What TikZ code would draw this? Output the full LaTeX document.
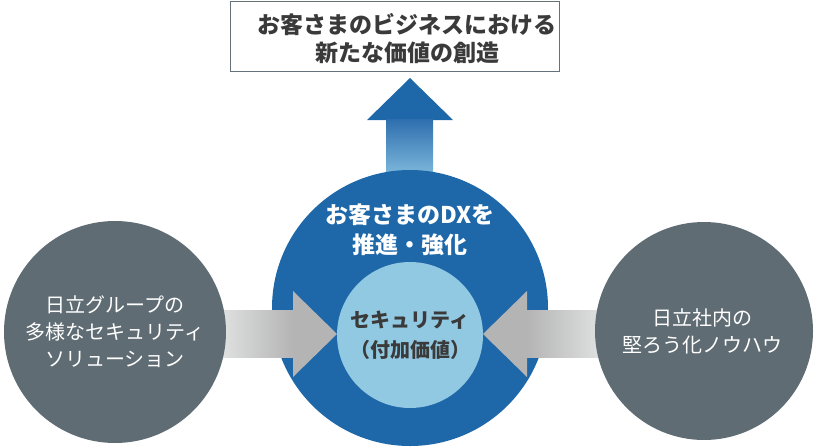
\documentclass[tikz,border=0pt]{standalone}
\usepackage{fontspec}
\newfontfamily\jp{Noto Sans CJK JP}
\definecolor{bigblue}{HTML}{1E67A9}
\definecolor{lightblue}{HTML}{92C9E2}
\definecolor{slate}{HTML}{5F6C73}
\definecolor{boxline}{HTML}{66727A}
\definecolor{darktext}{HTML}{3A3A3A}
\definecolor{arrlight}{HTML}{DFE0E0}
\definecolor{arrdark}{HTML}{B4B4B4}
\definecolor{uptop}{HTML}{2F6FAF}
\definecolor{upbottom}{HTML}{8CC6E4}
\tikzset{
  circ/.style={circle,inner sep=0pt,align=center},
  sidecirc/.style={circ,fill=slate,minimum size=222pt,text=white,font=\jp\fontsize{20}{27}\selectfont},
  goalbox/.style={draw=boxline,line width=1pt,fill=white,minimum width=329pt,minimum height=70pt,inner sep=0pt},
}
\begin{document}
\begin{tikzpicture}[x=1pt,y=-1pt]
\useasboundingbox (0,0) rectangle (821,447);
% up arrow (under the big circle)
\fill[bigblue] (367,120) -- (410,78) -- (453,120) -- cycle;
\shade[top color=uptop,bottom color=upbottom] (386,119.5) rectangle (433,185);
% big blue circle
\node[circ,fill=bigblue,minimum size=276pt] (dx) at (410,308) {};
\node[text=white,font=\jp\bfseries\fontsize{23}{30}\selectfont,align=center] (dxtext) at (410,230) {お客さまのDXを\\推進・強化};
% inner circle
\node[circ,fill=lightblue,minimum size=146pt,text=darktext,font=\jp\bfseries\fontsize{20}{30}\selectfont] (sec) at (410,335) {セキュリティ\\（付加価値）};
% left arrow
\shade[left color=arrlight,right color=arrdark] (222,310.5) rectangle (293.5,357);
\fill[arrdark] (293,291) -- (337,334) -- (293,377) -- cycle;
% right arrow
\shade[left color=arrdark,right color=arrlight] (526.5,310.5) rectangle (600,357);
\fill[arrdark] (527,291) -- (483,334) -- (527,377) -- cycle;
% side circles
\node[sidecirc] (left) at (115,332) {日立グループの\\多様なセキュリティ\\ソリューション};
\node[sidecirc,minimum size=218pt] (right) at (704,331) {\hspace*{-4pt}日立社内の\\\hspace*{-4pt}堅ろう化ノウハウ};
% goal box
\node[goalbox] (goal) at (394.5,36.5) {};
\node[text=darktext,font=\jp\bfseries\fontsize{23}{28}\selectfont,align=center] (goaltext) at (407,39) {お客さまのビジネスにおける\\新たな価値の創造};
\end{tikzpicture}
\end{document}
